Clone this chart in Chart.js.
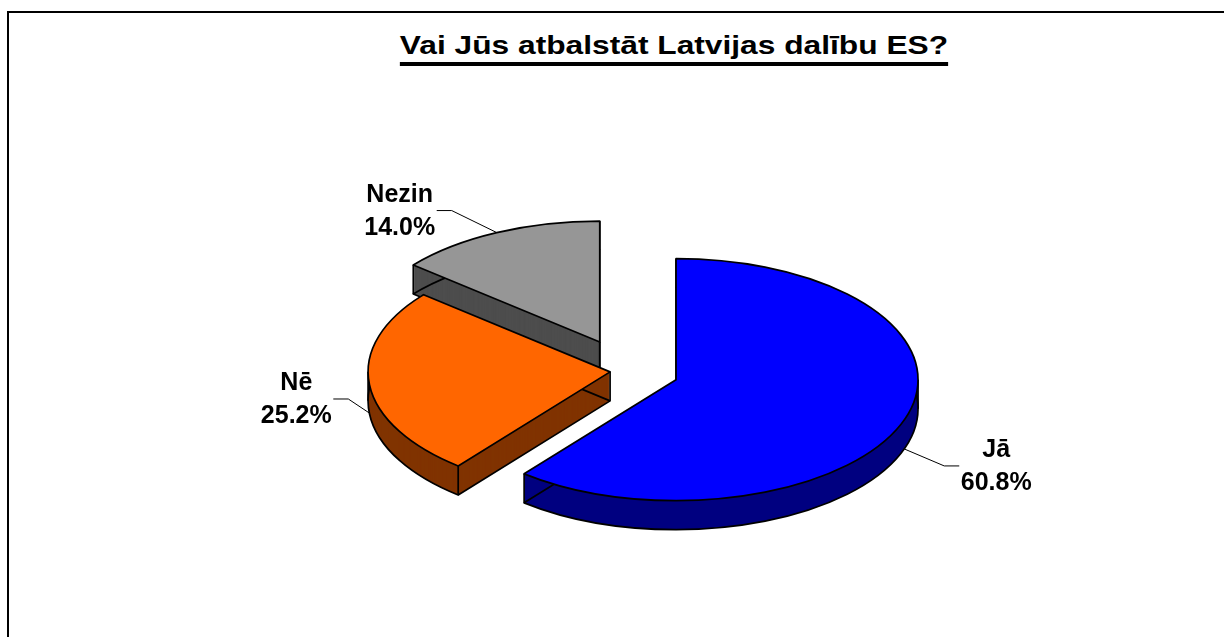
<!DOCTYPE html>
<html>
<head>
<meta charset="utf-8">
<script src="https://cdn.jsdelivr.net/npm/chart.js@4.4.1/dist/chart.umd.min.js"></script>
<style>
  html, body { margin: 0; padding: 0; background: #fff; overflow: hidden; }
  body { width: 1224px; height: 637px; position: relative; font-family: "Liberation Sans", Arial, sans-serif; }
  #frame { position: absolute; left: 7px; top: 11px; width: 1300px; height: 700px;
           border-left: 2px solid #000; border-top: 2px solid #000; }
  #title { position: absolute; left: 0; top: 32px; width: 1348px; text-align: center;
           font-weight: bold; font-size: 26px; line-height: 26px;
           transform: scaleX(1.22); transform-origin: 674px 0;
           text-decoration: underline; text-decoration-thickness: 3.5px; text-underline-offset: 8px; }
  canvas { position: absolute; left: 0; top: 0; }
</style>
</head>
<body>
<div id="frame"></div>
<div id="title">Vai Jūs atbalstāt Latvijas dalību ES?</div>
<canvas id="pie" width="1224" height="637"></canvas>
<script>
const labels = ['Jā', 'Nē', 'Nezin'];
const values = [60.8, 25.2, 14.0];
const topColors = ['#0000ff', '#ff6600', '#969696'];
const sideColors = ['#000080', '#803300', '#4d4d4d'];
const explode = [52, 17, 64]; // how far each slice is pulled out
const labelNudge = [[92, 17], [-73, -14], [-97, -22]];

const FLAT = 0.5;  // vertical squash of the pie
const DEPTH = 29;  // thickness of the pie in px

function centre(chart) {
    const a = chart.chartArea;
    return { x: (a.left + a.right) / 2, y: (a.top + a.bottom) / 2 };
}

// y of the slice apex on screen
function screenY(arc, cy) {
    return cy + (arc.y - cy) * FLAT;
}

function slicePath(ctx, arc, cy, dy) {
    const x = arc.x, y = screenY(arc, cy) + dy, r = arc.outerRadius;
    ctx.beginPath();
    ctx.moveTo(x, y);
    ctx.ellipse(x, y, r, r * FLAT, 0, arc.startAngle, arc.endAngle);
    ctx.closePath();
}

const pie3d = {
    id: 'pie3d',
    afterDatasetUpdate(chart, args) {
        const c = centre(chart);
        args.meta.data.forEach((arc, i) => {
            const mid = (arc.startAngle + arc.endAngle) / 2;
            arc.x = c.x + explode[i] * Math.cos(mid);
            arc.y = c.y + explode[i] * Math.sin(mid);
        });
    },
    beforeDatasetsDraw(chart) {
        const ctx = chart.ctx;
        const cy = centre(chart).y;
        const arcs = chart.getDatasetMeta(0).data.map((a, i) => ({ a, i }));
        arcs.sort((p, q) => p.a.y - q.a.y);

        ctx.save();
        ctx.strokeStyle = '#000';
        ctx.lineWidth = 1.7;
        ctx.lineJoin = 'round';
        arcs.forEach(({ a, i }) => {
            ctx.fillStyle = sideColors[i];
            for (let k = DEPTH; k >= 1; k--) {
                slicePath(ctx, a, cy, k);
                ctx.fill();
            }
            slicePath(ctx, a, cy, DEPTH);
            ctx.stroke();

            // vertical edges
            const y0 = screenY(a, cy), r = a.outerRadius;
            const pts = [[a.x, y0]];
            [a.startAngle, a.endAngle].forEach(t => pts.push([a.x + r * Math.cos(t), y0 + r * FLAT * Math.sin(t)]));
            [0, Math.PI, 2 * Math.PI].forEach(t => {
                if (t > a.startAngle && t < a.endAngle) pts.push([a.x + r * Math.cos(t), y0 + r * FLAT * Math.sin(t)]);
            });
            pts.forEach(p => {
                ctx.beginPath();
                ctx.moveTo(p[0], p[1]);
                ctx.lineTo(p[0], p[1] + DEPTH);
                ctx.stroke();
            });
        });
        ctx.restore();

        // the library draws the top faces squashed
        ctx.save();
        ctx.translate(0, cy);
        ctx.scale(1, FLAT);
        ctx.translate(0, -cy);
    },
    afterDatasetsDraw(chart) {
        const ctx = chart.ctx;
        ctx.restore();
        const cy = centre(chart).y;
        const arcs = chart.getDatasetMeta(0).data;

        ctx.save();
        ctx.strokeStyle = '#000';
        ctx.lineWidth = 1.7;
        ctx.lineJoin = 'round';
        arcs.forEach(a => {
            slicePath(ctx, a, cy, 0);
            ctx.stroke();
        });

        ctx.fillStyle = '#000';
        ctx.font = 'bold 25px "Liberation Sans", Arial, sans-serif';
        ctx.textAlign = 'center';
        ctx.textBaseline = 'alphabetic';
        arcs.forEach((a, i) => {
            const mid = (a.startAngle + a.endAngle) / 2;
            const ex = a.x + a.outerRadius * Math.cos(mid);
            const ey = screenY(a, cy) + a.outerRadius * FLAT * Math.sin(mid) + (Math.sin(mid) > 0 ? DEPTH : 0);
            const lx = ex + labelNudge[i][0], ly = ey + labelNudge[i][1];
            const dir = Math.cos(mid) > 0 ? -1 : 1;

            ctx.lineWidth = 1;
            ctx.beginPath();
            ctx.moveTo(ex, ey);
            ctx.lineTo(lx + dir * 52, ly);
            ctx.lineTo(lx + dir * 37, ly);
            ctx.stroke();

            ctx.fillText(labels[i], lx, ly - 8.5);
            ctx.fillText(values[i].toFixed(1) + '%', lx, ly + 24.5);
        });
        ctx.restore();
    }
};

new Chart(document.getElementById('pie'), {
    type: 'pie',
    data: {
        labels: labels,
        datasets: [{
            data: values,
            backgroundColor: topColors,
            borderWidth: 0,
            radius: 242,
            clip: false
        }]
    },
    options: {
        responsive: false,
        animation: false,
        layout: { padding: { left: 30, top: 105, right: 0, bottom: 0 } },
        plugins: {
            legend: { display: false },
            tooltip: { enabled: false },
            title: { display: false }
        }
    },
    plugins: [pie3d]
});
</script>
</body>
</html>
